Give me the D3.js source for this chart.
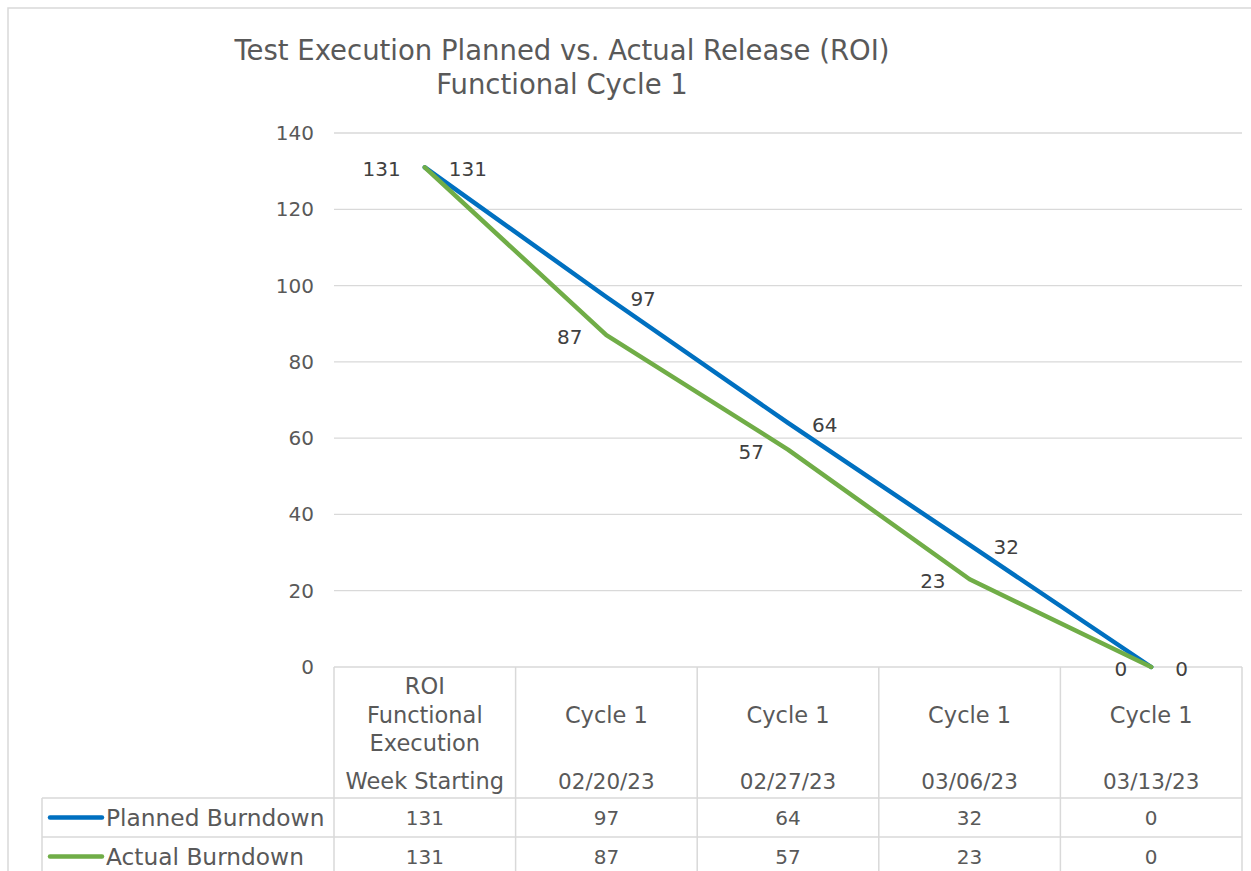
<!DOCTYPE html>
<html>
<head>
<meta charset="utf-8">
<script src="https://cdn.jsdelivr.net/npm/d3@7"></script>
<style>
  body { margin: 0; background: #fff; }
  svg { display: block; font-family: "DejaVu Sans", sans-serif; }
</style>
</head>
<body>
<svg width="1251" height="871"></svg>
<script>
// data
var catTop = ["ROI\nFunctional\nExecution", "Cycle 1", "Cycle 1", "Cycle 1", "Cycle 1"];
var catBottom = ["Week Starting", "02/20/23", "02/27/23", "03/06/23", "03/13/23"];
var planned = [131, 97, 64, 32, 0];
var actual = [131, 87, 57, 23, 0];
var seriesNames = ["Planned Burndown", "Actual Burndown"];
var yTicks = [0, 20, 40, 60, 80, 100, 120, 140];

var svg = d3.select("svg");
var textCol = "#595959", labelCol = "#404040", gridCol = "#d9d9d9";
var colors = ["#0070C0", "#70AD47"];
var numSize = 20, txtSize = 22.5;

// chart frame
svg.append("rect")
  .attr("x", 8).attr("y", 8).attr("width", 1260).attr("height", 900)
  .attr("fill", "none").attr("stroke", gridCol).attr("stroke-width", 1.5);

// title
var title = svg.append("text")
  .attr("text-anchor", "middle")
  .attr("fill", textCol)
  .attr("font-size", 27.5);
title.append("tspan").attr("x", 562).attr("y", 60).text("Test Execution Planned vs. Actual Release (ROI)");
title.append("tspan").attr("x", 562).attr("y", 94).text("Functional Cycle 1");

// scales
var x = d3.scaleBand().domain(d3.range(catBottom.length)).range([334, 1242]);
var y = d3.scaleLinear().domain([0, 140]).range([667, 133]);

// gridlines
svg.append("g").selectAll("line")
  .data(yTicks.filter(function(d) { return d > 0; }))
  .enter().append("line")
    .attr("x1", 334).attr("x2", 1242)
    .attr("y1", function(d) { return y(d); })
    .attr("y2", function(d) { return y(d); })
    .attr("stroke", gridCol).attr("stroke-width", 1.3);

// y axis labels
svg.append("g").selectAll("text")
  .data(yTicks)
  .enter().append("text")
    .attr("x", 314)
    .attr("y", function(d) { return y(d); })
    .attr("dy", "0.35em")
    .attr("text-anchor", "end")
    .attr("fill", textCol)
    .attr("font-size", numSize)
    .text(function(d) { return d; });

// data table grid
var tbl = svg.append("g").attr("stroke", gridCol).attr("stroke-width", 1.5);
var rowY = [667, 798, 837, 876];
tbl.append("line").attr("x1", 334).attr("x2", 1242).attr("y1", rowY[0]).attr("y2", rowY[0]);
rowY.slice(1).forEach(function(r) {
  tbl.append("line").attr("x1", 42).attr("x2", 1242).attr("y1", r).attr("y2", r);
});
var bounds = x.domain().map(function(i) { return x(i); }).concat([x.range()[1]]);
bounds.forEach(function(b) {
  tbl.append("line").attr("x1", b).attr("x2", b).attr("y1", 667).attr("y2", 876);
});
tbl.append("line").attr("x1", 42).attr("x2", 42).attr("y1", 798).attr("y2", 876);

// header labels
var head = svg.append("g").attr("fill", textCol).attr("text-anchor", "middle");
catTop.forEach(function(c, i) {
  var lines = c.split("\n");
  lines.forEach(function(l, j) {
    head.append("text")
      .attr("x", x(i) + x.bandwidth() / 2)
      .attr("y", 715 + (j - (lines.length - 1) / 2) * 28.5)
      .attr("dy", "0.35em")
      .attr("font-size", txtSize)
      .text(l);
  });
  head.append("text")
    .attr("x", x(i) + x.bandwidth() / 2)
    .attr("y", 781)
    .attr("dy", "0.35em")
    .attr("font-size", i === 0 ? txtSize : 21.5)
    .text(catBottom[i]);
});

// value rows + legend keys
[planned, actual].forEach(function(vals, s) {
  var ry = (rowY[s + 1] + rowY[s + 2]) / 2;
  head.selectAll(null)
    .data(vals)
    .enter().append("text")
      .attr("x", function(d, i) { return x(i) + x.bandwidth() / 2; })
      .attr("y", ry)
      .attr("dy", "0.35em")
      .attr("font-size", numSize)
      .text(function(d) { return d; });
  svg.append("line")
    .attr("x1", 50).attr("x2", 102).attr("y1", ry).attr("y2", ry)
    .attr("stroke", colors[s]).attr("stroke-width", 4.5).attr("stroke-linecap", "round");
  svg.append("text")
    .attr("x", 106).attr("y", ry).attr("dy", "0.35em")
    .attr("fill", textCol).attr("font-size", 23.3)
    .text(seriesNames[s]);
});

// lines
var line = d3.line()
  .x(function(d, i) { return x(i) + x.bandwidth() / 2; })
  .y(function(d) { return y(d); });

[planned, actual].forEach(function(vals, s) {
  svg.append("path")
    .datum(vals)
    .attr("d", line)
    .attr("fill", "none")
    .attr("stroke", colors[s])
    .attr("stroke-width", 4.5)
    .attr("stroke-linejoin", "round")
    .attr("stroke-linecap", "round");
});

// data labels: planned to the right, actual to the left
[planned, actual].forEach(function(vals, s) {
  svg.append("g").selectAll("text")
    .data(vals)
    .enter().append("text")
      .attr("x", function(d, i) { return x(i) + x.bandwidth() / 2 + (s === 0 ? 24 : -24); })
      .attr("y", function(d) { return y(d) + 2; })
      .attr("dy", "0.35em")
      .attr("text-anchor", s === 0 ? "start" : "end")
      .attr("fill", labelCol)
      .attr("font-size", numSize)
      .text(function(d) { return d; });
});
</script>
</body>
</html>
